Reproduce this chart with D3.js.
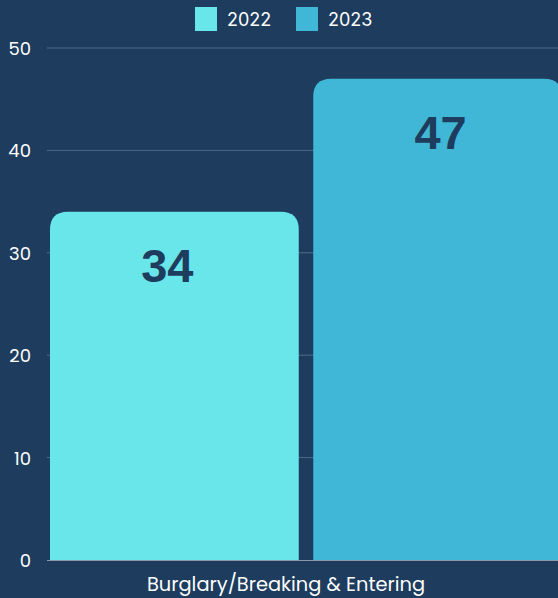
<!DOCTYPE html>
<html>
<head>
<meta charset="utf-8">
<script src="https://cdn.jsdelivr.net/npm/d3@7"></script>
<style>
  html, body { margin: 0; padding: 0; background: #1d3c5e; overflow: hidden; }
</style>
</head>
<body>
<script>
var categories = ["Burglary/Breaking & Entering"];
var years = ["2022", "2023"];
var values2022 = [34];
var values2023 = [47];
var yTicks = [0, 10, 20, 30, 40, 50];

var colors = { "2022": "#68e6e9", "2023": "#40b7d6" };
var bg = "#1d3c5e";

var W = 558, H = 598;
var plotTop = 48, plotBottom = 560, plotLeft = 47;

var svg = d3.select("body")
    .append("svg")
    .attr("width", W)
    .attr("height", H)
    .style("display", "block");

svg.append("rect")
    .attr("width", W)
    .attr("height", H)
    .attr("fill", bg);

var yScale = d3.scaleLinear()
    .domain([0, 50])
    .range([plotBottom, plotTop]);

var x0 = d3.scaleBand()
    .domain(categories)
    .range([50, 562]);

var x1 = d3.scaleBand()
    .domain(years)
    .range([0, x0.bandwidth()])
    .paddingInner(0.055);

// gridlines
svg.append("g")
    .selectAll("line")
    .data(yTicks.filter(function(d) { return d > 0; }))
    .enter()
    .append("line")
    .attr("x1", plotLeft)
    .attr("x2", W)
    .attr("y1", function(d) { return yScale(d); })
    .attr("y2", function(d) { return yScale(d); })
    .attr("stroke", "#4d6a88")
    .attr("stroke-width", 1);

// baseline
svg.append("line")
    .attr("x1", plotLeft)
    .attr("x2", W)
    .attr("y1", yScale(0) + 0.5)
    .attr("y2", yScale(0) + 0.5)
    .attr("stroke", "#8a98a8")
    .attr("stroke-width", 1);

// y tick labels
svg.append("g")
    .selectAll("text")
    .data(yTicks)
    .enter()
    .append("text")
    .attr("x", 31)
    .attr("y", function(d) { return yScale(d) + 7; })
    .attr("text-anchor", "end")
    .style("font-family", "Poppins, 'Open Sans', sans-serif")
    .style("font-size", "18px")
    .style("fill", "#ffffff")
    .text(function(d) { return d; });

// rounded-top bar path
function topRounded(x, y, w, h, r) {
    r = Math.min(r, w / 2, h);
    return "M" + x + "," + (y + h) +
        "V" + (y + r) +
        "Q" + x + "," + y + " " + (x + r) + "," + y +
        "H" + (x + w - r) +
        "Q" + (x + w) + "," + y + " " + (x + w) + "," + (y + r) +
        "V" + (y + h) + "Z";
}

var rows = [];
categories.forEach(function(c, i) {
    rows.push({ cat: c, year: "2022", value: values2022[i], dx: -7 });
    rows.push({ cat: c, year: "2023", value: values2023[i], dx: 3 });
});

svg.append("g")
    .selectAll("path")
    .data(rows)
    .enter()
    .append("path")
    .attr("d", function(d) {
        var x = x0(d.cat) + x1(d.year);
        var y = yScale(d.value);
        return topRounded(x, y, x1.bandwidth(), yScale(0) - y, 18);
    })
    .attr("fill", function(d) { return colors[d.year]; });

// value labels
svg.append("g")
    .selectAll("text")
    .data(rows)
    .enter()
    .append("text")
    .attr("x", function(d) { return x0(d.cat) + x1(d.year) + x1.bandwidth() / 2 + d.dx; })
    .attr("y", function(d) { return yScale(d.value) + 70; })
    .attr("text-anchor", "middle")
    .style("font-family", "'Liberation Sans', Arial, sans-serif")
    .style("font-weight", "bold")
    .style("font-size", "47px")
    .style("fill", bg)
    .text(function(d) { return d.value; });

// category label
svg.append("g")
    .selectAll("text")
    .data(categories)
    .enter()
    .append("text")
    .attr("x", function(d) { return x0(d) + x0.bandwidth() / 2 - 20; })
    .attr("y", 591)
    .attr("text-anchor", "middle")
    .style("font-family", "Poppins, 'Open Sans', sans-serif")
    .style("font-size", "19.4px")
    .style("fill", "#ffffff")
    .text(function(d) { return d; });

// legend
var legend = svg.append("g")
    .selectAll("g")
    .data(years)
    .enter()
    .append("g")
    .attr("transform", function(d, i) { return "translate(" + (195 + i * 101) + ",7)"; });

legend.append("rect")
    .attr("width", 22)
    .attr("height", 24)
    .attr("fill", function(d) { return colors[d]; });

legend.append("text")
    .attr("x", 32)
    .attr("y", 19)
    .style("font-family", "Inter, sans-serif")
    .style("font-size", "18px")
    .style("fill", "#ffffff")
    .text(function(d) { return d; });
</script>
</body>
</html>
